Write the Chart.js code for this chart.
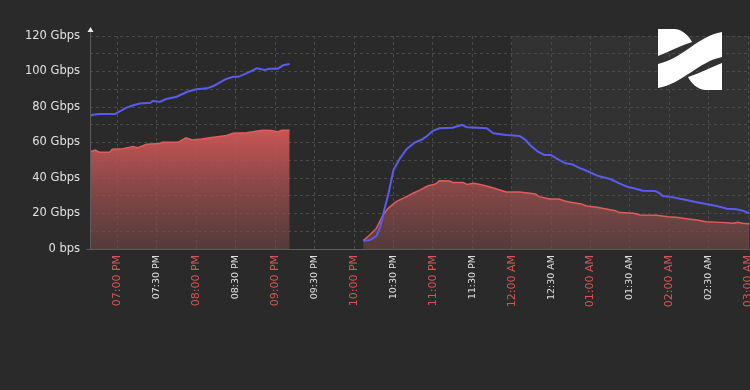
<!DOCTYPE html>
<html>
<head>
<meta charset="utf-8">
<script src="https://cdn.jsdelivr.net/npm/chart.js@4.4.1/dist/chart.umd.min.js"></script>
<style>
  html, body { margin: 0; padding: 0; background: #2a2a2a; }
  canvas { display: block; }
</style>
</head>
<body>
<canvas id="trafficChart" width="750" height="390"></canvas>
<script>
// visible time window and the shaded "current day" part
const axisStart = "18:39";
const axisEnd = "03:01";
const shadeFrom = "00:00";

// inbound traffic (blue line), Gbps -- null = no data
const inTimes = ["18:39","18:41","18:46","18:58","19:06","19:12","19:17","19:25","19:27","19:32","19:37","19:45","19:53","20:00","20:08","20:13","20:22","20:28","20:32","20:41","20:46","20:52","20:56","21:02","21:06","21:11",
  "21:40",
  "22:07","22:12","22:17","22:20","22:23","22:26","22:30","22:35","22:40","22:46","22:51","22:55","23:00","23:05","23:15","23:22","23:26","23:41","23:46","23:56","00:06","00:10","00:14","00:20","00:25","00:30","00:34","00:41","00:46","00:51","00:57","01:06","01:15","01:22","01:28","01:33","01:40","01:49","01:52","01:55","02:00","02:13","02:21","02:28","02:36","02:44","02:51","02:56","03:01"];
const inValues = [74.8,75.6,76,76,79.4,81,82,82.4,83.5,82.8,84.5,85.8,88.6,90,90.5,91.8,95.6,97,97,99.9,101.8,100.8,101.6,101.6,103.5,104.2,
  null,
  4.7,5,7.3,12.6,22,30.4,44.5,51.1,56.2,59.9,61.4,63.3,66.6,68,68.3,69.9,68.6,68,65.2,64.2,63.7,61.8,58.6,54.8,53,53,51.1,48.3,47.7,45.8,44.1,41.1,39.4,37,35.1,34.2,32.8,32.7,31.7,29.9,29.5,27.6,26.3,25.4,24.2,22.7,22.4,21.6,20.1];

// outbound traffic (red area), Gbps
const outTimes = ["18:39","18:43","18:46","18:54","18:56","19:04","19:12","19:15","19:22","19:32","19:34","19:46","19:52","19:57","20:04","20:10","20:16","20:23","20:28","20:38","20:43","20:50","20:57","21:02","21:05","21:11",
  "21:40",
  "22:07","22:12","22:17","22:22","22:26","22:32","22:40","22:45","22:50","22:56","23:02","23:05","23:13","23:15","23:23","23:26","23:31","23:36","23:43","23:51","23:56","00:06","00:14","00:18","00:21","00:29","00:36","00:41","00:47","00:53","00:57","01:05","01:12","01:19","01:22","01:33","01:38","01:50","01:59","02:07","02:13","02:21","02:28","02:39","02:49","02:52","02:56","03:01"];
const outValues = [54.8,55.8,54.5,54.5,56.2,56.5,57.7,57,59,59.5,60.1,60.1,62.7,61.4,62,62.7,63.3,64,65.2,65.5,66,66.9,66.7,66.1,66.9,66.9,
  null,
  4.7,7.9,11.6,19.1,22.9,26.7,29.5,31.4,33.2,35.5,36.6,38.5,38.3,37.5,37.5,36.4,37,36.4,35.1,33.2,32.1,32.1,31.4,31,29.5,28.2,28.1,26.9,26.1,25.4,24.2,23.5,22.5,21.6,20.5,20.1,19.2,19,18.2,17.8,17.1,16.3,15.4,15,14.5,15,14.5,14.1];

// y axis
const yMax = 120;
const yLabelStep = 20;

// minutes counted from 18:00, so the night doesn't wrap
function toMin(t) {
  const [h, m] = t.split(":").map(Number);
  let v = h * 60 + m - 1080;
  if (v < 0) v += 1440;
  return v;
}

function pad(n) {
  return n < 10 ? "0" + n : "" + n;
}

function timeLabel(v) {
  const total = Math.round(v) + 1080;
  const h = Math.floor(total / 60) % 24;
  const m = total % 60;
  const h12 = h % 12 === 0 ? 12 : h % 12;
  return pad(h12) + ":" + pad(m) + " " + (h < 12 ? "AM" : "PM");
}

function toPoints(times, values) {
  return times.map((t, i) => ({ x: toMin(t), y: values[i] }));
}

const isHour = (v) => Math.round(v) % 60 === 0;

// background + shaded section from midnight
const backdrop = {
  id: "backdrop",
  beforeDraw(chart) {
    const { ctx, chartArea } = chart;
    ctx.save();
    ctx.fillStyle = "#2a2a2a";
    ctx.fillRect(0, 0, chart.width, chart.height);
    const x0 = chart.scales.x.getPixelForValue(toMin(shadeFrom));
    ctx.fillStyle = "#323232";
    ctx.fillRect(x0, chartArea.top, chartArea.right - x0, chartArea.bottom - chartArea.top);
    ctx.restore();
  }
};

// axis lines, arrow and the logo
const overlay = {
  id: "overlay",
  afterDraw(chart) {
    const { ctx, chartArea } = chart;
    const l = chartArea.left + 0.5;
    const b = chartArea.bottom + 0.5;
    ctx.save();
    ctx.strokeStyle = "#5c5c5c";
    ctx.lineWidth = 1;
    ctx.beginPath();
    ctx.moveTo(l, chartArea.top - 5);
    ctx.lineTo(l, b);
    ctx.moveTo(l - 4, b);
    ctx.lineTo(chartArea.right, b);
    ctx.stroke();

    ctx.fillStyle = "#e8e8e8";
    ctx.beginPath();
    ctx.moveTo(l, chartArea.top - 9);
    ctx.lineTo(l - 3, chartArea.top - 4);
    ctx.lineTo(l + 3, chartArea.top - 4);
    ctx.closePath();
    ctx.fill();

    // logo
    ctx.fillStyle = "#ffffff";
    ctx.beginPath();
    ctx.moveTo(658, 64);
    ctx.bezierCurveTo(682, 59, 698, 36, 722, 32);
    ctx.lineTo(722, 57);
    ctx.bezierCurveTo(698, 62, 682, 84, 658, 88);
    ctx.closePath();
    ctx.fill();

    ctx.beginPath();
    ctx.moveTo(658, 29);
    ctx.lineTo(675, 29);
    ctx.bezierCurveTo(683, 30, 689, 36, 692, 42);
    ctx.bezierCurveTo(680, 46, 668, 52, 658, 56);
    ctx.closePath();
    ctx.fill();

    ctx.beginPath();
    ctx.moveTo(722, 90);
    ctx.lineTo(705, 90);
    ctx.bezierCurveTo(697, 89, 691, 83, 688, 77);
    ctx.bezierCurveTo(700, 73, 712, 67, 722, 63);
    ctx.closePath();
    ctx.fill();
    ctx.restore();
  }
};

const ctx = document.getElementById("trafficChart").getContext("2d");

const chart = new Chart(ctx, {
  type: "line",
  data: {
    datasets: [
      {
        label: "In",
        data: toPoints(inTimes, inValues),
        borderColor: "#5b5bef",
        borderWidth: 2,
        pointRadius: 0,
        tension: 0,
        fill: false
      },
      {
        label: "Out",
        data: toPoints(outTimes, outValues),
        borderColor: "#e25c5c",
        borderWidth: 1.5,
        pointRadius: 0,
        tension: 0,
        fill: "origin",
        backgroundColor: (c) => {
          const area = c.chart.chartArea;
          if (!area) return "rgba(200,80,80,0.8)";
          const y0 = c.chart.scales.y.getPixelForValue(67);
          const g = c.chart.ctx.createLinearGradient(0, y0, 0, area.bottom);
          g.addColorStop(0, "rgba(215,89,89,0.92)");
          g.addColorStop(1, "rgba(112,70,70,0.6)");
          return g;
        }
      }
    ]
  },
  options: {
    responsive: false,
    animation: false,
    layout: { padding: { top: 36, right: 0, left: 0, bottom: 0 } },
    plugins: {
      legend: { display: false },
      tooltip: { enabled: false }
    },
    scales: {
      x: {
        type: "linear",
        min: toMin(axisStart),
        max: toMin(axisEnd) + 0.45,
        afterBuildTicks: (scale) => {
          const ticks = [];
          for (let v = Math.ceil(scale.min / 30) * 30; v <= scale.max; v += 30) {
            ticks.push({ value: v });
          }
          scale.ticks = ticks;
        },
        afterFit: (scale) => {
          scale.height = 390 - 249;
          scale.paddingLeft = 0;
          scale.paddingRight = 0;
        },
        border: { display: false, dash: [3, 3] },
        grid: { color: "#4a4a4a", drawTicks: false, lineWidth: 1 },
        ticks: {
          autoSkip: false,
          minRotation: 90,
          maxRotation: 90,
          padding: 6,
          color: (c) => (c.tick && isHour(c.tick.value) ? "#d95555" : "#e0e0e0"),
          font: (c) => ({
            family: "DejaVu Sans",
            size: c.tick && isHour(c.tick.value) ? 11 : 9.5
          }),
          callback: (v) => timeLabel(v)
        }
      },
      y: {
        min: 0,
        max: yMax,
        afterFit: (scale) => {
          scale.width = 90;
        },
        border: { display: false, dash: [3, 3] },
        grid: { color: "#4a4a4a", drawTicks: false, lineWidth: 1 },
        ticks: {
          stepSize: 10,
          padding: 10,
          color: "#e0e0e0",
          font: { family: "DejaVu Sans", size: 11.5 },
          callback: (v) => {
            if (v % yLabelStep !== 0) return "";
            return v === 0 ? "0 bps" : v + " Gbps";
          }
        }
      }
    }
  },
  plugins: [backdrop, overlay]
});
</script>
</body>
</html>
